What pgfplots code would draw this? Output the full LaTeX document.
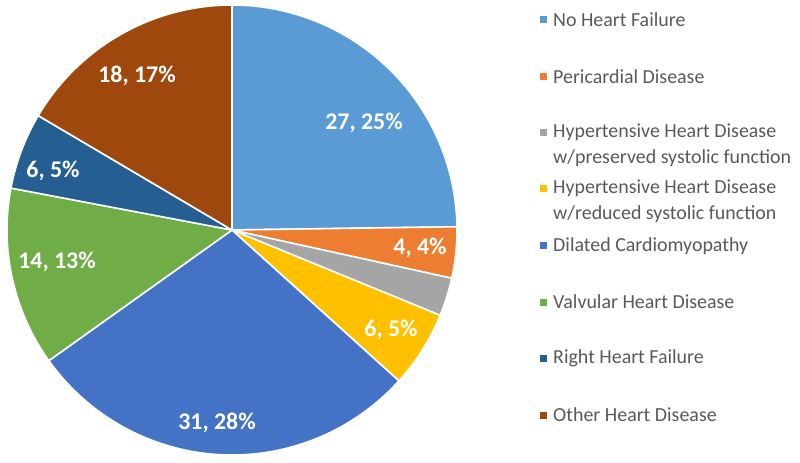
\documentclass[border=0pt]{standalone}
\usepackage{pgfplots}
\pgfplotsset{compat=1.18}
\usepackage{fontspec}
\setmainfont{Carlito}
\definecolor{c1}{HTML}{5B9BD5}
\definecolor{c2}{HTML}{ED7D31}
\definecolor{c3}{HTML}{A5A5A5}
\definecolor{c4}{HTML}{FFC000}
\definecolor{c5}{HTML}{4472C4}
\definecolor{c6}{HTML}{70AD47}
\definecolor{c7}{HTML}{255E91}
\definecolor{c8}{HTML}{9E480E}
\definecolor{txt}{HTML}{595959}
% slice: colour, cumulative value before, value
\newcommand\slice[3]{%
  \pgfmathsetmacro\sa{90-(360/109)*(#2+#3)}%
  \pgfmathsetmacro\sb{90-(360/109)*(#2)}%
  \edef\temp{\noexpand\addplot[fill=#1, draw=white, line width=1.6pt, line join=round, domain=\sa:\sb, samples=80]
    ({232+225*cos(x)},{232+225*sin(x)}) -- (axis cs:232,232) -- cycle;}%
  \temp
}
\newcommand\legsq[2]{\fill[#1] (axis cs:539.5,#2-3.5) rectangle (axis cs:546.5,#2+3.5);}
\begin{document}
\begin{tikzpicture}
\begin{axis}[
  width=800bp, height=462bp, scale only axis,
  xmin=0, xmax=800, ymin=0, ymax=462,
  hide axis, clip=false,
]
\path (rel axis cs:0,0) rectangle (rel axis cs:1,1);
% values: 27, 4, 3, 6, 31, 14, 6, 18 (total 109)
\slice{c1}{0}{27}
\slice{c2}{27}{4}
\slice{c3}{31}{3}
\slice{c4}{34}{6}
\slice{c5}{40}{31}
\slice{c6}{71}{14}
\slice{c7}{85}{6}
\slice{c8}{91}{18}
\begin{scope}[every node/.style={text=white, font=\fontsize{24}{26}\selectfont\bfseries}]
\node at (axis cs:364,339) {27, 25\%};
\node at (axis cs:420,214) {4, 4\%};
\node at (axis cs:391,132) {6, 5\%};
\node at (axis cs:217,39) {31, 28\%};
\node at (axis cs:57,200) {14, 13\%};
\node at (axis cs:53,291) {6, 5\%};
\node at (axis cs:137,386) {18, 17\%};
\end{scope}
\legsq{c1}{442}
\legsq{c2}{385}
\legsq{c3}{329}
\legsq{c4}{273}
\legsq{c5}{216}
\legsq{c6}{160}
\legsq{c7}{104}
\legsq{c8}{47}
\begin{scope}[every node/.style={text=txt, anchor=west, inner sep=0pt, align=left, font=\fontsize{20}{25.5}\selectfont}]
\node at (axis cs:553,442) {No Heart Failure};
\node at (axis cs:553,385) {Pericardial Disease};
\node[anchor=north west] at (axis cs:553,329+9) {Hypertensive Heart Disease\\w/preserved systolic function};
\node[anchor=north west] at (axis cs:553,273+9) {Hypertensive Heart Disease\\w/reduced systolic function};
\node at (axis cs:553,216) {Dilated Cardiomyopathy};
\node at (axis cs:553,160) {Valvular Heart Disease};
\node at (axis cs:553,104) {Right Heart Failure};
\node at (axis cs:553,47) {Other Heart Disease};
\end{scope}
\end{axis}
\end{tikzpicture}
\end{document}
